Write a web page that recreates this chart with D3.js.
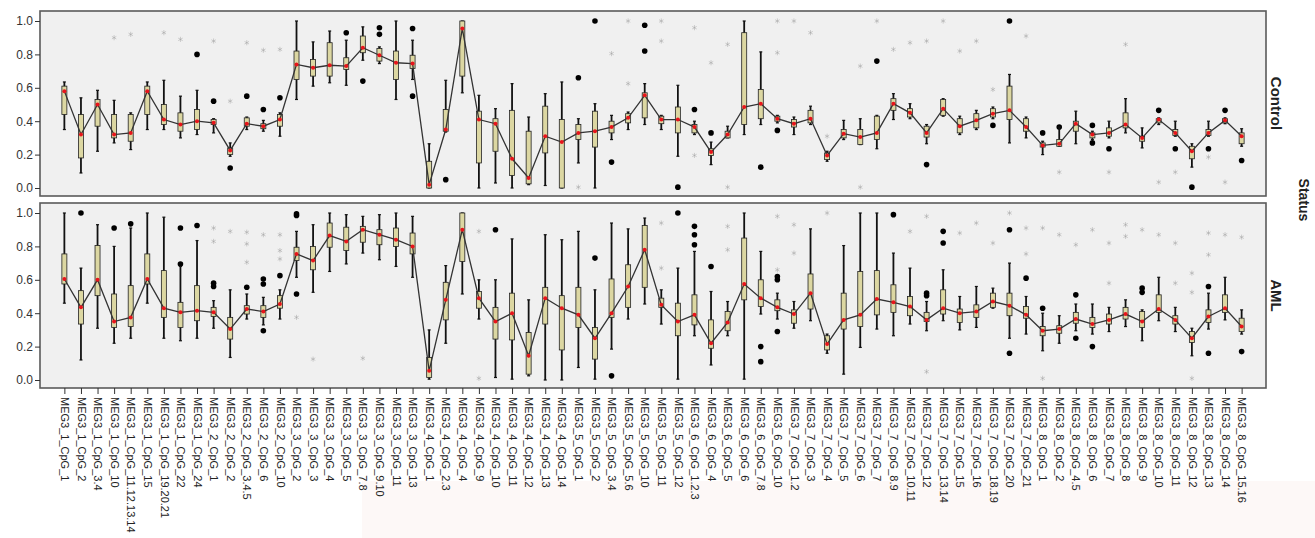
<!DOCTYPE html>
<html>
<head>
<style>
  body { margin: 0px; background: white; }
  svg text { font-family: "Liberation Sans", Arial, sans-serif; }
</style>
<script src="https://cdnjs.cloudflare.com/ajax/libs/d3/7.8.5/d3.min.js"></script>
</head>
<body>
<svg></svg>
<script>
const categories = [
  "MEG3_1_CpG_1", "MEG3_1_CpG_2", "MEG3_1_CpG_3.4", "MEG3_1_CpG_10", "MEG3_1_CpG_11.12.13.14",
  "MEG3_1_CpG_15", "MEG3_1_CpG_19.20.21", "MEG3_1_CpG_22", "MEG3_1_CpG_24",
  "MEG3_2_CpG_1", "MEG3_2_CpG_2", "MEG3_2_CpG_3.4.5", "MEG3_2_CpG_6", "MEG3_2_CpG_10",
  "MEG3_3_CpG_2", "MEG3_3_CpG_3", "MEG3_3_CpG_4", "MEG3_3_CpG_5", "MEG3_3_CpG_7.8", "MEG3_3_CpG_9.10",
  "MEG3_3_CpG_11", "MEG3_3_CpG_13",
  "MEG3_4_CpG_1", "MEG3_4_CpG_2.3", "MEG3_4_CpG_4", "MEG3_4_CpG_9", "MEG3_4_CpG_10", "MEG3_4_CpG_11",
  "MEG3_4_CpG_12", "MEG3_4_CpG_13", "MEG3_4_CpG_14",
  "MEG3_5_CpG_1", "MEG3_5_CpG_2", "MEG3_5_CpG_3.4", "MEG3_5_CpG_5.6", "MEG3_5_CpG_10", "MEG3_5_CpG_11",
  "MEG3_5_CpG_12",
  "MEG3_6_CpG_1.2.3", "MEG3_6_CpG_4", "MEG3_6_CpG_5", "MEG3_6_CpG_6", "MEG3_6_CpG_7.8", "MEG3_6_CpG_10",
  "MEG3_7_CpG_1.2", "MEG3_7_CpG_3", "MEG3_7_CpG_4", "MEG3_7_CpG_5", "MEG3_7_CpG_6", "MEG3_7_CpG_7",
  "MEG3_7_CpG_8.9", "MEG3_7_CpG_10.11", "MEG3_7_CpG_12", "MEG3_7_CpG_13.14", "MEG3_7_CpG_15",
  "MEG3_7_CpG_16", "MEG3_7_CpG_18.19", "MEG3_7_CpG_20", "MEG3_7_CpG_21",
  "MEG3_8_CpG_1", "MEG3_8_CpG_2", "MEG3_8_CpG_4.5", "MEG3_8_CpG_6", "MEG3_8_CpG_7", "MEG3_8_CpG_8",
  "MEG3_8_CpG_9", "MEG3_8_CpG_10", "MEG3_8_CpG_11", "MEG3_8_CpG_12", "MEG3_8_CpG_13", "MEG3_8_CpG_14",
  "MEG3_8_CpG_15.16"
];

const yTicks = [0, 0.2, 0.4, 0.6, 0.8, 1.0];

// Control: whisker low, Q1, median, Q3, whisker high
const ctrlLow  = [0.35,0.09,0.22,0.27,0.23,0.35,0.35,0.30,0.32, 0.33,0.19,0.35,0.34,0.31, 0.53,0.61,0.63,0.615,0.765,0.745,0.53,0.65, 0.00,0.335,0.57,0.00,0.03,0.00,0.02,0.015,0.00, 0.15,0.00,0.29,0.35,0.38,0.35,0.19, 0.32,0.14,0.30,0.32,0.38,0.39, 0.32,0.38,0.16,0.29,0.26,0.235,0.41,0.415,0.265,0.43,0.32,0.35,0.415,0.27,0.30, 0.20,0.25,0.265,0.29,0.30,0.33,0.24,0.38,0.31,0.125,0.31,0.385,0.25];
const ctrlQ1   = [0.44,0.18,0.37,0.30,0.28,0.44,0.38,0.34,0.35, 0.38,0.20,0.37,0.355,0.37, 0.65,0.67,0.67,0.71,0.81,0.76,0.65,0.715, 0.00,0.34,0.67,0.15,0.22,0.075,0.025,0.21,0.00, 0.29,0.245,0.33,0.39,0.42,0.385,0.33, 0.33,0.195,0.30,0.38,0.415,0.40, 0.365,0.39,0.17,0.30,0.26,0.29,0.465,0.425,0.305,0.435,0.33,0.36,0.425,0.41,0.34, 0.245,0.25,0.34,0.30,0.31,0.36,0.28,0.39,0.315,0.175,0.315,0.39,0.265];
const ctrlMed  = [0.58,0.32,0.50,0.32,0.33,0.58,0.41,0.38,0.40, 0.39,0.225,0.385,0.37,0.41, 0.74,0.72,0.735,0.73,0.84,0.795,0.75,0.745, 0.02,0.35,0.955,0.41,0.385,0.175,0.06,0.31,0.275, 0.33,0.34,0.365,0.42,0.555,0.41,0.41, 0.365,0.215,0.32,0.485,0.505,0.415, 0.385,0.415,0.195,0.325,0.305,0.33,0.505,0.45,0.33,0.475,0.37,0.405,0.445,0.465,0.365, 0.255,0.265,0.385,0.32,0.33,0.38,0.30,0.41,0.33,0.22,0.33,0.405,0.31];
const ctrlQ3   = [0.61,0.44,0.53,0.44,0.44,0.61,0.50,0.45,0.47, 0.41,0.24,0.42,0.385,0.44, 0.82,0.77,0.87,0.78,0.91,0.835,0.82,0.795, 0.16,0.47,1.00,0.46,0.415,0.465,0.34,0.49,0.41, 0.38,0.46,0.40,0.445,0.57,0.43,0.485, 0.38,0.235,0.34,0.93,0.59,0.43, 0.41,0.465,0.21,0.35,0.35,0.43,0.535,0.475,0.37,0.53,0.415,0.445,0.475,0.61,0.415, 0.27,0.29,0.40,0.33,0.36,0.45,0.31,0.415,0.35,0.25,0.35,0.415,0.33];
const ctrlHigh = [0.635,0.54,0.585,0.525,0.45,0.635,0.645,0.55,0.585, 0.415,0.27,0.425,0.405,0.45, 1.00,0.875,0.94,0.885,0.965,0.845,1.00,0.885, 0.265,0.645,1.00,0.555,0.475,0.625,0.425,0.565,0.635, 0.415,0.505,0.435,0.455,0.625,0.435,0.615, 0.40,0.275,0.37,1.00,0.815,0.435, 0.425,0.49,0.22,0.405,0.415,0.435,0.565,0.505,0.38,0.535,0.43,0.465,0.485,0.68,0.425, 0.28,0.365,0.46,0.34,0.40,0.535,0.36,0.42,0.40,0.265,0.40,0.42,0.355];
// Control outliers (circles) and extremes (stars): [category index, value]
const ctrlOutliers = [[8,0.80],[9,0.52],[10,0.12],[11,0.55],[12,0.47],[13,0.54],[17,0.93],[18,0.64],[19,0.96],[19,0.92],[21,0.955],[21,0.55],[23,0.05],[31,0.66],[32,1.0],[33,0.155],[35,0.975],[35,0.82],[37,0.005],[38,0.47],[39,0.33],[42,0.125],[43,0.345],[49,0.76],[52,0.14],[56,0.375],[57,1.0],[59,0.33],[60,0.365],[62,0.375],[62,0.27],[63,0.235],[66,0.465],[67,0.235],[68,0.005],[69,0.235],[70,0.465],[71,0.165]];
const ctrlExtremes = [[3,0.90],[4,0.92],[6,0.93],[7,0.89],[9,0.88],[10,0.52],[11,0.87],[12,0.825],[13,0.83],[31,0.005],[33,0.805],[34,1.0],[34,0.625],[36,1.0],[36,0.88],[38,0.96],[38,0.195],[39,0.75],[40,0.86],[40,0.005],[43,1.0],[43,0.81],[44,1.0],[45,0.93],[46,0.31],[48,0.73],[48,0.005],[49,1.0],[50,0.83],[51,0.87],[52,0.88],[53,1.0],[54,0.82],[55,0.88],[56,0.59],[58,0.91],[60,0.095],[63,0.095],[64,0.86],[66,0.035],[67,0.095],[69,0.185],[70,0.035]];

// AML
const amlLow  = [0.46,0.12,0.31,0.22,0.25,0.46,0.25,0.235,0.25, 0.31,0.135,0.365,0.33,0.365, 0.615,0.525,0.65,0.695,0.76,0.72,0.68,0.615, 0.005,0.22,0.515,0.365,0.015,0.005,0.025,0.00,0.00, 0.075,0.005,0.185,0.365,0.455,0.335,0.005, 0.265,0.09,0.265,0.005,0.395,0.365, 0.31,0.355,0.16,0.035,0.195,0.305,0.265,0.335,0.295,0.355,0.30,0.315,0.43,0.25,0.275, 0.175,0.22,0.295,0.275,0.29,0.32,0.235,0.355,0.29,0.145,0.305,0.36,0.275];
const amlQ1   = [0.575,0.335,0.505,0.315,0.32,0.575,0.375,0.315,0.355, 0.38,0.245,0.395,0.375,0.43, 0.715,0.66,0.795,0.775,0.825,0.81,0.80,0.755, 0.015,0.36,0.71,0.43,0.245,0.24,0.035,0.335,0.18, 0.315,0.125,0.375,0.435,0.555,0.435,0.265, 0.33,0.19,0.295,0.48,0.44,0.415, 0.34,0.425,0.18,0.305,0.32,0.39,0.405,0.385,0.35,0.395,0.345,0.375,0.435,0.385,0.37, 0.265,0.28,0.34,0.315,0.335,0.365,0.315,0.405,0.335,0.225,0.345,0.405,0.29];
const amlMed  = [0.605,0.435,0.60,0.35,0.375,0.605,0.43,0.405,0.415, 0.405,0.305,0.425,0.41,0.455, 0.755,0.715,0.865,0.83,0.90,0.87,0.84,0.80, 0.055,0.48,0.90,0.49,0.35,0.40,0.145,0.49,0.43, 0.39,0.25,0.40,0.56,0.78,0.45,0.35, 0.39,0.22,0.345,0.575,0.49,0.435, 0.395,0.52,0.215,0.36,0.39,0.485,0.465,0.44,0.36,0.43,0.40,0.41,0.47,0.445,0.39, 0.295,0.305,0.365,0.335,0.36,0.395,0.35,0.425,0.36,0.25,0.38,0.43,0.32];
const amlQ3   = [0.755,0.535,0.805,0.515,0.565,0.755,0.655,0.465,0.565, 0.435,0.375,0.445,0.445,0.505, 0.795,0.80,0.94,0.915,0.92,0.90,0.91,0.88, 0.135,0.585,1.00,0.53,0.435,0.52,0.285,0.555,0.505, 0.555,0.315,0.605,0.69,0.925,0.49,0.46, 0.51,0.36,0.41,0.85,0.60,0.48, 0.42,0.635,0.265,0.52,0.65,0.655,0.57,0.50,0.405,0.54,0.425,0.45,0.52,0.52,0.44, 0.32,0.325,0.405,0.375,0.395,0.435,0.41,0.51,0.385,0.29,0.42,0.51,0.37];
const amlHigh = [1.00,0.67,0.93,0.80,0.91,1.00,0.975,0.68,0.835, 0.475,0.54,0.515,0.495,0.54, 0.89,0.93,1.00,0.99,0.98,0.99,1.00,0.98, 0.30,0.685,1.00,0.60,0.60,0.845,0.48,0.87,0.84, 0.89,0.54,0.94,0.905,0.97,0.54,0.67, 0.77,0.53,0.47,1.00,0.77,0.52, 0.47,0.905,0.275,0.805,1.00,1.00,0.76,0.67,0.47,0.66,0.50,0.56,0.55,0.70,0.50, 0.40,0.385,0.455,0.455,0.435,0.48,0.42,0.615,0.435,0.31,0.52,0.615,0.42];
const amlOutliers = [[1,1.0],[3,0.91],[4,0.935],[7,0.91],[7,0.695],[8,0.925],[9,0.58],[9,0.56],[11,0.555],[12,0.605],[12,0.575],[12,0.295],[13,0.625],[14,0.995],[14,0.985],[14,0.515],[26,0.90],[32,0.73],[33,0.025],[37,1.0],[38,0.92],[38,0.87],[38,0.81],[39,0.68],[42,0.20],[42,0.11],[43,0.62],[43,0.60],[43,0.29],[50,0.99],[52,0.52],[52,0.505],[53,0.89],[53,0.82],[57,0.90],[57,0.16],[58,0.61],[59,0.43],[61,0.51],[61,0.25],[62,0.20],[65,0.55],[65,0.525],[69,0.56],[69,0.16],[71,0.17]];
const amlExtremes = [[9,0.91],[9,0.83],[10,0.89],[11,0.885],[11,0.815],[11,0.705],[12,0.87],[13,0.87],[13,0.775],[13,0.725],[14,0.375],[15,0.125],[18,0.13],[25,0.89],[25,0.01],[36,0.94],[36,0.67],[40,0.92],[40,0.78],[43,0.98],[43,0.66],[44,0.93],[44,0.76],[46,1.0],[51,0.89],[52,0.98],[52,0.05],[54,0.88],[55,0.94],[56,0.82],[57,1.0],[58,0.91],[58,0.755],[59,0.91],[59,0.01],[60,0.87],[61,0.81],[62,0.90],[63,0.82],[63,0.58],[64,0.93],[64,0.86],[65,0.90],[66,0.87],[67,0.82],[67,0.58],[68,0.64],[68,0.525],[68,0.01],[69,0.88],[69,0.75],[70,0.87],[71,0.855]];

const width = 1315, height = 538;
const left = 40, right = 1266;

const svg = d3.select("svg")
    .attr("width", width)
    .attr("height", height);

// faint tinted strip of the scanned page below the labels
svg.append("rect")
    .attr("x", 362).attr("y", 481)
    .attr("width", width - 362).attr("height", height - 481)
    .attr("fill", "#fdf8f7");

const x = d3.scalePoint()
    .domain(categories)
    .range([left, right])
    .padding(1.47);

const panels = [
  {name: "Control", top: 11, bottom: 196, low: ctrlLow, q1: ctrlQ1, med: ctrlMed, q3: ctrlQ3, high: ctrlHigh, out: ctrlOutliers, ext: ctrlExtremes},
  {name: "AML", top: 203, bottom: 388, low: amlLow, q1: amlQ1, med: amlMed, q3: amlQ3, high: amlHigh, out: amlOutliers, ext: amlExtremes}
];

const boxW = 5;
const star = d3.symbol().type(d3.symbolAsterisk).size(18);

panels.forEach(function(p) {
  const y = d3.scaleLinear().domain([0, 1]).range([p.bottom - 8, p.top + 10]);
  const g = svg.append("g");

  g.append("rect")
      .attr("x", left).attr("y", p.top)
      .attr("width", right - left).attr("height", p.bottom - p.top)
      .attr("fill", "#f0f0f0")
      .attr("stroke", "#5a5a5a")
      .attr("stroke-width", 1.6);

  const yAxis = g.append("g")
      .attr("transform", "translate(" + left + ",0)")
      .call(d3.axisLeft(y).tickValues(yTicks).tickFormat(d3.format(".1f")).tickSize(5).tickPadding(2));
  yAxis.select(".domain").remove();
  yAxis.selectAll("text").style("font-size", "12px").attr("fill", "#333");
  yAxis.selectAll("line").attr("stroke", "#333");

  // extremes (stars)
  g.selectAll(".ext").data(p.ext).join("path")
      .attr("transform", function(d) { return "translate(" + x(categories[d[0]]) + "," + y(d[1]) + ")"; })
      .attr("d", star)
      .attr("fill", "#b0b0b0")
      .attr("stroke", "#a0a0a0")
      .attr("stroke-width", 0.5);

  // outliers (circles)
  g.selectAll(".out").data(p.out).join("circle")
      .attr("cx", function(d) { return x(categories[d[0]]); })
      .attr("cy", function(d) { return y(d[1]); })
      .attr("r", 2.8)
      .attr("fill", "#000");

  const idx = d3.range(categories.length);

  // whiskers
  g.selectAll(".wh").data(idx).join("line")
      .attr("x1", function(i) { return x(categories[i]); })
      .attr("x2", function(i) { return x(categories[i]); })
      .attr("y1", function(i) { return y(p.low[i]); })
      .attr("y2", function(i) { return y(p.high[i]); })
      .attr("stroke", "#111")
      .attr("stroke-width", 1.8);

  ["low", "high"].forEach(function(k) {
    g.selectAll(".cap" + k).data(idx).join("line")
        .attr("x1", function(i) { return x(categories[i]) - 1.5; })
        .attr("x2", function(i) { return x(categories[i]) + 1.5; })
        .attr("y1", function(i) { return y(p[k][i]); })
        .attr("y2", function(i) { return y(p[k][i]); })
        .attr("stroke", "#111")
        .attr("stroke-width", 1.2);
  });

  // boxes
  g.selectAll(".box").data(idx).join("rect")
      .attr("x", function(i) { return x(categories[i]) - boxW / 2; })
      .attr("y", function(i) { return y(p.q3[i]); })
      .attr("width", boxW)
      .attr("height", function(i) { return Math.max(1, y(p.q1[i]) - y(p.q3[i])); })
      .attr("fill", "#dcd7a2")
      .attr("stroke", "#222")
      .attr("stroke-width", 0.8);

  // median line
  const line = d3.line()
      .x(function(d, i) { return x(categories[i]); })
      .y(function(d) { return y(d); });
  g.append("path")
      .datum(p.med)
      .attr("d", line)
      .attr("fill", "none")
      .attr("stroke", "#333")
      .attr("stroke-width", 1.3);

  g.selectAll(".med").data(idx).join("circle")
      .attr("cx", function(i) { return x(categories[i]); })
      .attr("cy", function(i) { return y(p.med[i]); })
      .attr("r", 2)
      .attr("fill", "#e8141b");

  // facet label
  svg.append("text")
      .attr("transform", "translate(1276," + ((p.top + p.bottom) / 2) + ") rotate(90)")
      .attr("text-anchor", "middle")
      .attr("dy", "0.35em")
      .style("font-size", "15px")
      .style("font-weight", "bold")
      .attr("fill", "#222")
      .text(p.name);
});

// x axis
const xAxis = svg.append("g")
    .attr("transform", "translate(0,388)")
    .call(d3.axisBottom(x).tickSize(6));
xAxis.select(".domain").remove();
xAxis.selectAll("line").attr("stroke", "#333");
xAxis.selectAll("text")
    .attr("transform", "rotate(90)")
    .attr("x", 9)
    .attr("y", 0)
    .attr("dy", "0.35em")
    .style("text-anchor", "start")
    .style("font-size", "11px")
    .attr("fill", "#222");

svg.append("text")
    .attr("transform", "translate(1304,200) rotate(90)")
    .attr("text-anchor", "middle")
    .attr("dy", "0.35em")
    .style("font-size", "14px")
    .style("font-weight", "bold")
    .attr("fill", "#222")
    .text("Status");
</script>
</body>
</html>
